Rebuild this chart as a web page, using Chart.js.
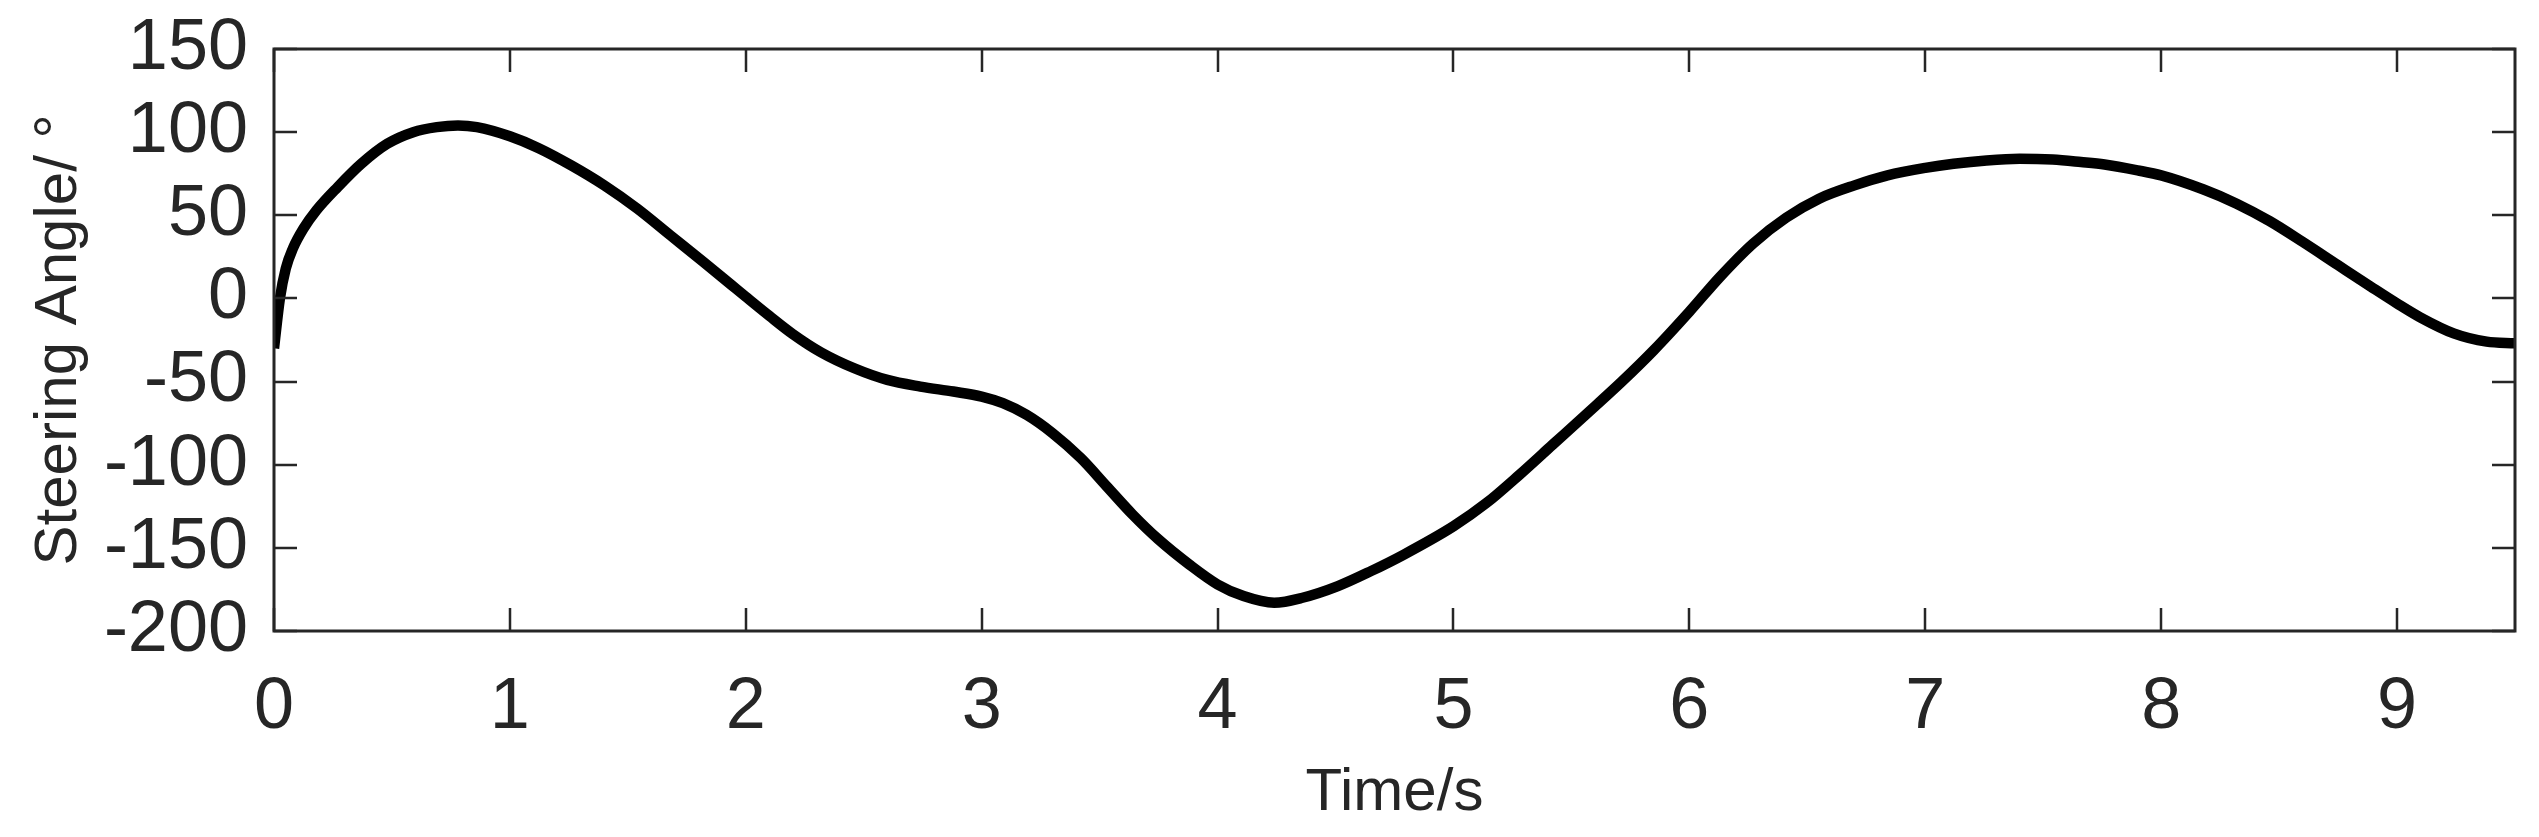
<!DOCTYPE html>
<html>
<head>
<meta charset="utf-8">
<script src="https://cdn.jsdelivr.net/npm/chart.js"></script>
<style>
  html, body { margin: 0; padding: 0; background: #fff; }
  #wrap { width: 2539px; height: 837px; }
</style>
</head>
<body>
<div id="wrap"><canvas id="steerChart"></canvas></div>
<script>
// values
const timeSec = [0, 0.025, 0.05, 0.08, 0.125, 0.18, 0.27, 0.37, 0.48, 0.59, 0.69, 0.78, 0.86,
  1.0, 1.12, 1.26, 1.40, 1.54, 1.68, 1.82, 1.94, 2.0, 2.10, 2.20, 2.32, 2.46, 2.60, 2.74, 2.88,
  3.0, 3.09, 3.19, 3.30, 3.42, 3.53, 3.64, 3.75, 3.88, 4.0, 4.11, 4.24, 4.36, 4.51, 4.65, 4.79,
  5.0, 5.14, 5.28, 5.42, 5.56, 5.71, 5.85, 6.0, 6.13, 6.27, 6.41, 6.55, 6.70, 6.84,
  7.0, 7.12, 7.26, 7.40, 7.54, 7.66, 7.76, 7.90, 8.0, 8.18, 8.32, 8.46, 8.60, 8.75, 8.89,
  9.0, 9.10, 9.24, 9.38, 9.5];
const steeringDeg = [-30, 0, 18, 30, 42, 53, 67, 81, 93, 100, 103, 104, 103,
  97.5, 90.5, 80, 68, 54, 38, 22, 8, 1, -10.5, -21.5, -32.5, -42, -49, -53, -56,
  -59, -63, -70, -81, -96, -113, -130, -145, -160, -172, -179, -183, -180, -173, -164, -154,
  -137, -123, -106, -88, -70, -50.5, -31, -8, 13, 33, 48.5, 60, 68, 74,
  78.5, 81, 83, 84, 83.5, 82, 80.5, 77, 74, 65.5, 57, 46.5, 34, 20, 7,
  -3, -11.5, -21, -26, -27];
const xTickValues = [0, 1, 2, 3, 4, 5, 6, 7, 8, 9];
const yTickValues = [-200, -150, -100, -50, 0, 50, 100, 150];

const axisColor = '#262626';
const fontFamily = '"Liberation Sans", Arial, sans-serif';

// box round the plot + inward ticks on all four sides (matlab style)
const boxTicks = {
  id: 'boxTicks',
  afterDatasetsDraw(chart) {
    const ctx = chart.ctx;
    const a = chart.chartArea;
    const x = chart.scales.x, y = chart.scales.y;
    const len = 23;
    ctx.save();
    ctx.strokeStyle = axisColor;
    ctx.lineWidth = 2.5;
    ctx.beginPath();
    xTickValues.forEach(v => {
      const px = Math.round(x.getPixelForValue(v));
      ctx.moveTo(px, a.bottom); ctx.lineTo(px, a.bottom - len);
      ctx.moveTo(px, a.top); ctx.lineTo(px, a.top + len);
    });
    yTickValues.forEach(v => {
      const py = Math.round(y.getPixelForValue(v));
      ctx.moveTo(a.left, py); ctx.lineTo(a.left + len, py);
      ctx.moveTo(a.right, py); ctx.lineTo(a.right - len, py);
    });
    ctx.stroke();
    ctx.lineWidth = 3;
    ctx.strokeRect(a.left, a.top, a.right - a.left, a.bottom - a.top);
    ctx.restore();
  }
};

// pin the plot box: no extra label padding from the scales
function noPad(s) {
  s.paddingTop = 0; s.paddingBottom = 0;
  s.paddingLeft = 0; s.paddingRight = 0;
}

new Chart(document.getElementById('steerChart'), {
  type: 'line',
  data: {
    datasets: [{
      data: timeSec.map((t, i) => ({ x: t, y: steeringDeg[i] })),
      borderColor: '#000000',
      borderWidth: 10.5,
      pointRadius: 0,
      cubicInterpolationMode: 'monotone',
      fill: false
    }]
  },
  options: {
    responsive: true,
    maintainAspectRatio: false,
    animation: false,
    layout: { padding: { top: 49, right: 24, bottom: 0, left: 0 } },
    plugins: { legend: { display: false }, tooltip: { enabled: false } },
    scales: {
      x: {
        type: 'linear',
        min: 0,
        max: 9.5,
        afterBuildTicks: s => { s.ticks = xTickValues.map(v => ({ value: v })); },
        afterFit: s => { s.height = 206; noPad(s); },
        grid: { drawOnChartArea: false, drawTicks: false },
        border: { display: false },
        ticks: {
          padding: 34,
          maxRotation: 0,
          autoSkip: false,
          color: axisColor,
          font: { family: fontFamily, size: 72 }
        },
        title: {
          display: true,
          text: 'Time/s',
          color: axisColor,
          padding: { top: 0, bottom: 8 },
          font: { family: fontFamily, size: 60 }
        }
      },
      y: {
        min: -200,
        max: 150,
        afterBuildTicks: s => { s.ticks = yTickValues.map(v => ({ value: v })); },
        afterFit: s => { s.width = 274; noPad(s); },
        grid: { drawOnChartArea: false, drawTicks: false },
        border: { display: false },
        ticks: {
          padding: 26,
          autoSkip: false,
          color: axisColor,
          font: { family: fontFamily, size: 72 }
        },
        title: {
          display: true,
          text: 'Steering Angle/ °',
          color: axisColor,
          padding: { top: 23, bottom: 0 },
          font: { family: fontFamily, size: 60 }
        }
      }
    }
  },
  plugins: [boxTicks]
});
</script>
</body>
</html>
